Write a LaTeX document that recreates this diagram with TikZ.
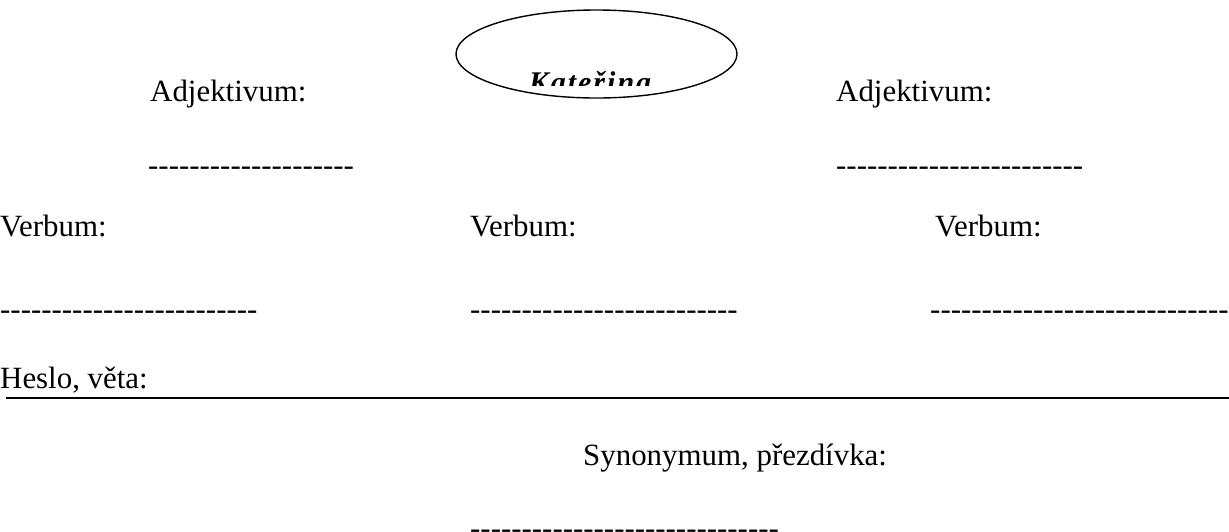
\documentclass[tikz,border=0pt]{standalone}
\usepackage{fontspec}
\setmainfont{Liberation Serif}
\usetikzlibrary{shapes.geometric}
\newcount\dashcnt
\newcommand{\dashrow}[1]{\dashcnt=0 \loop\ifnum\dashcnt<#1 -\kern0pt\advance\dashcnt by 1 \repeat}
\tikzset{
  lbl/.style={anchor=base west, inner sep=0pt, font=\fontsize{30.9}{36}\selectfont},
  oval/.style={draw, ellipse, line width=1.4pt, minimum width=281pt, minimum height=88pt, inner sep=0pt},
  rule/.style={line width=1.8pt}
}
\begin{document}
\begin{tikzpicture}[x=1pt,y=-1pt]
\useasboundingbox (0,0) rectangle (1229,531);
\node[oval] (ov) at (596.5,54) {};
\begin{scope}
\clip (400,0) rectangle (800,85);
\node[anchor=base, inner sep=0pt, font=\fontsize{30}{34}\selectfont\bfseries\itshape] (kat) at (590,92) {K\kern2pt a\kern2pt t\kern2pt e\kern2pt ř\kern2pt i\kern2pt n\kern2pt a};
\end{scope}
\node[lbl] (a1) at (150,101) {Adjektivum:};
\node[lbl] (a2) at (836,101) {Adjektivum:};
\node[lbl] (d1) at (148,175) {\dashrow{20}};
\node[lbl] (d2) at (836,175) {\dashrow{24}};
\node[lbl] (v1) at (0,236) {Verbum:};
\node[lbl] (v2) at (470,236) {Verbum:};
\node[lbl] (v3) at (935,236) {Verbum:};
\node[lbl] (d3) at (0,319) {\dashrow{25}};
\node[lbl] (d4) at (470,319) {\dashrow{26}};
\node[lbl] (d5) at (930,319) {\dashrow{29}};
\node[lbl] (h) at (0,388) {Heslo, věta:};
\coordinate (l1) at (6,398);
\coordinate (l2) at (1229,398);
\draw[rule] (l1) -- (l2);
\node[lbl] (s) at (583,465) {Synonymum, přezdívka:};
\node[lbl] (d6) at (470,538) {\dashrow{30}};
\end{tikzpicture}
\end{document}
